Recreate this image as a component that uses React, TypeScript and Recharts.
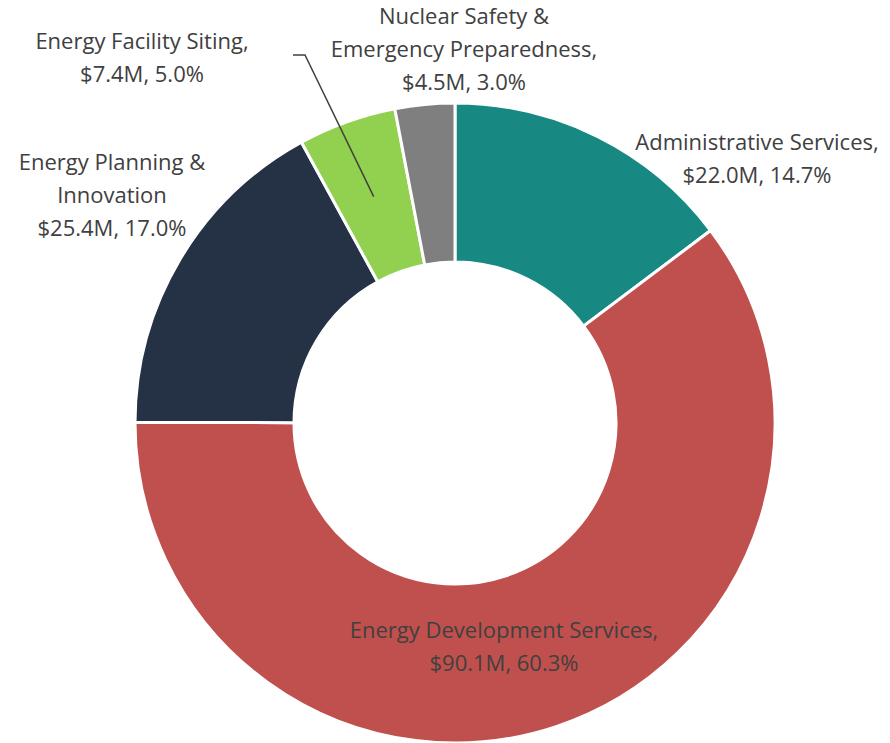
import React from "react";
import { PieChart, Pie, Cell } from "recharts";

const categories = [
  "Administrative Services",
  "Energy Development Services",
  "Energy Planning & Innovation",
  "Energy Facility Siting",
  "Nuclear Safety & Emergency Preparedness",
];
const values = [22.0, 90.1, 25.4, 7.4, 4.5];
const labelNameLines = [
  ["Administrative Services,"],
  ["Energy Development Services,"],
  ["Energy Planning &", "Innovation"],
  ["Energy Facility Siting,"],
  ["Nuclear Safety &", "Emergency Preparedness,"],
];
const colors = ["#178982", "#C0504D", "#253145", "#92D050", "#7F7F7F"];
// label anchor offsets from pie centre (first-line baseline)
const labelOffsets = [
  [302, -273],
  [49, 215],
  [-343, -253],
  [-313, -374],
  [9, -399],
];
const leaderLine = [false, false, false, true, false];

const total = values.reduce((a, b) => a + b, 0);
const data = categories.map((c, i) => ({ name: c, value: values[i] }));

const RAD = Math.PI / 180;
const FONT = "'Open Sans', sans-serif";

const renderLabel = (props: any) => {
  const { cx, cy, midAngle, innerRadius, outerRadius, index, value } = props;
  const [dx, dy] = labelOffsets[index];
  const x = cx + dx;
  const y = cy + dy;
  const lines = [
    ...labelNameLines[index],
    `$${value.toFixed(1)}M, ${((value / total) * 100).toFixed(1)}%`,
  ];
  let leader = null;
  if (leaderLine[index]) {
    const r = (innerRadius + outerRadius) / 2;
    const px = cx + r * Math.cos(-midAngle * RAD);
    const py = cy + r * Math.sin(-midAngle * RAD);
    const lx = x + 151;
    const ly = y + 6;
    leader = (
      <polyline
        points={`${lx},${ly} ${lx + 12},${ly} ${px},${py}`}
        fill="none"
        stroke="#404040"
        strokeWidth={1.5}
      />
    );
  }
  return (
    <g key={`lbl-${index}`}>
      {leader}
      <text
        x={x}
        y={y}
        textAnchor="middle"
        fill="#404040"
        fontFamily={FONT}
        fontSize={22}
      >
        {lines.map((t, i) => (
          <tspan key={i} x={x} dy={i === 0 ? 0 : 33}>
            {t}
          </tspan>
        ))}
      </text>
    </g>
  );
};

export default function App() {
  return (
    <div style={{ position: "absolute", left: 0, top: 0, background: "#fff" }}>
      <PieChart width={890} height={743} margin={{ top: 0, right: 0, bottom: 0, left: 0 }}>
        <Pie
          data={data}
          dataKey="value"
          nameKey="name"
          cx={455}
          cy={423}
          innerRadius={161}
          outerRadius={320}
          startAngle={90}
          endAngle={-270}
          stroke="#ffffff"
          strokeWidth={3}
          label={renderLabel}
          labelLine={false}
          isAnimationActive={false}
        >
          {data.map((d, i) => (
            <Cell key={d.name} fill={colors[i]} />
          ))}
        </Pie>
      </PieChart>
    </div>
  );
}
